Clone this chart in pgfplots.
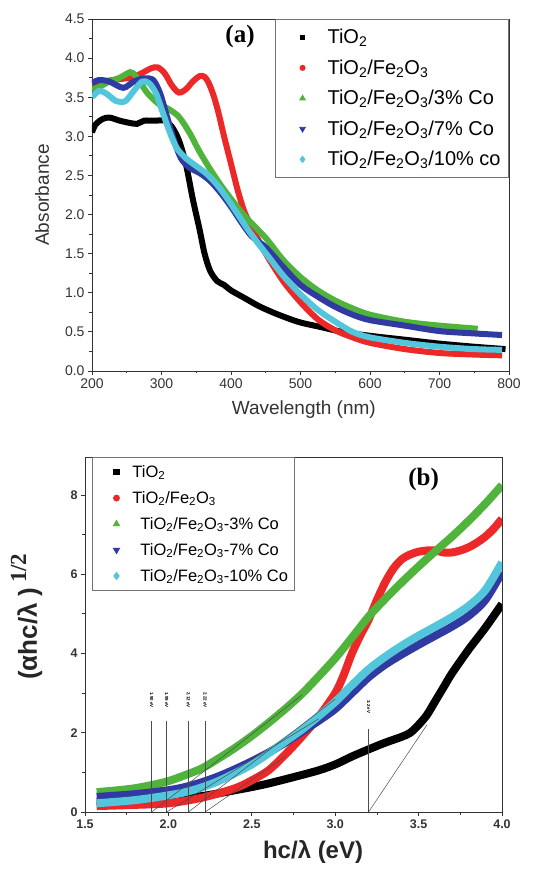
\documentclass[border=0pt]{standalone}
\usepackage{fontspec}
\setmainfont{Liberation Sans}
\newfontfamily\serifbf{Liberation Serif}
\usepackage{pgfplots}
\pgfplotsset{compat=1.18}
\definecolor{cblack}{RGB}{0,0,0}
\definecolor{cred}{RGB}{236,40,40}
\definecolor{cgreen}{RGB}{80,180,60}
\definecolor{cblue}{RGB}{48,58,160}
\definecolor{ccyan}{RGB}{84,198,220}
\pgfplotsset{
  legimgA/.style={legend image code/.code={\path[draw=none,fill=none] (0pt,0pt) -- (44pt,0pt); \draw[##1] plot coordinates {(21pt,0pt)};}},
  legimgB/.style={legend image code/.code={\path[draw=none,fill=none] (0pt,0pt) -- (34pt,0pt); \draw[##1] plot coordinates {(20pt,0pt)};}},
}
\begin{document}
\begin{tikzpicture}
\useasboundingbox (0pt,0pt) rectangle (547pt,872pt);
% ---------------- panel (a)
\begin{axis}[at={(92pt,501pt)}, anchor=south west, width=417pt, height=352pt, scale only axis,
  xmin=200, xmax=800, ymin=0, ymax=4.5,
  xtick={200,300,...,800}, ytick={0,0.5,...,4.5},
  minor x tick num=1, minor y tick num=1,
  tick pos=left, tick align=outside,
  major tick length=4pt, minor tick length=2.5pt,
  axis line style={line width=0.9pt, black!80},
  every tick/.style={black!80, line width=0.8pt},
  /pgf/number format/assume math mode=true,
  yticklabel style={/pgf/number format/fixed, /pgf/number format/fixed zerofill, /pgf/number format/precision=1},
  xticklabel style={/pgf/number format/fixed},
  tick label style={font=\fontsize{14}{14}\selectfont, text=black!80},
  every axis y label/.style={at={(axis description cs:-0.12,0.5)}, rotate=90, anchor=center},
  every axis x label/.style={at={(axis description cs:0.508,-0.111)}, anchor=center},
  label style={font=\fontsize{19}{19}\selectfont, text=black!80},
  xlabel={Wavelength (nm)}, ylabel={Absorbance},
  legend style={at={(1,1)}, anchor=north east, draw=black!55, line width=0.8pt,
    font=\fontsize{20}{22}\selectfont, row sep=10.5pt, inner xsep=6pt, inner ysep=8pt},
  legend cell align=left,
  legimgA,
]
\addplot[cblack, line width=6pt, smooth, forget plot] coordinates {
(200,3.05) (205,3.15) (215,3.22) (225,3.24) (240,3.2) (255,3.17) (265,3.16) (275,3.2) (290,3.2) (305,3.2) (315,3.12) (325,2.95) (335,2.65) (345,2.2) (355,1.8) (362,1.5) (370,1.28) (380,1.15) (390,1.1) (400,1.03) (420,0.93) (440,0.83) (460,0.75) (480,0.68) (500,0.62) (530,0.56) (560,0.5) (600,0.45) (650,0.4) (700,0.35) (750,0.31) (795,0.28)};
\addplot[cred, line width=6pt, smooth, forget plot] coordinates {
(200,3.68) (230,3.72) (255,3.75) (270,3.8) (285,3.87) (295,3.88) (305,3.8) (315,3.65) (325,3.56) (335,3.6) (345,3.7) (355,3.77) (362,3.76) (368,3.68) (375,3.52) (382,3.3) (390,3.0) (400,2.65) (410,2.3) (420,2.02) (435,1.75) (450,1.5) (475,1.15) (500,0.88) (525,0.66) (550,0.52) (575,0.43) (600,0.36) (650,0.28) (700,0.23) (750,0.21) (790,0.2)};
\addplot[cgreen, line width=6pt, smooth, forget plot] coordinates {
(200,3.6) (210,3.63) (225,3.7) (240,3.75) (255,3.82) (262,3.78) (270,3.68) (280,3.55) (295,3.42) (310,3.35) (325,3.25) (340,3.05) (355,2.8) (370,2.58) (385,2.38) (400,2.2) (420,1.98) (450,1.7) (475,1.42) (500,1.2) (525,1.03) (550,0.9) (575,0.8) (600,0.72) (650,0.63) (700,0.58) (755,0.54)};
\addplot[cblue, line width=6pt, smooth, forget plot] coordinates {
(200,3.68) (210,3.72) (225,3.7) (245,3.62) (260,3.7) (275,3.74) (288,3.72) (298,3.55) (308,3.25) (318,2.95) (328,2.72) (340,2.6) (355,2.53) (370,2.43) (385,2.28) (400,2.1) (415,1.9) (430,1.72) (450,1.58) (475,1.33) (500,1.1) (525,0.95) (550,0.82) (575,0.72) (600,0.65) (650,0.58) (700,0.51) (750,0.48) (790,0.46)};
\addplot[ccyan, line width=6pt, smooth, forget plot] coordinates {
(200,3.5) (210,3.58) (220,3.55) (235,3.45) (248,3.45) (260,3.58) (272,3.7) (282,3.68) (292,3.55) (302,3.3) (312,3.05) (322,2.85) (335,2.72) (350,2.62) (365,2.52) (380,2.38) (395,2.2) (410,2.0) (425,1.8) (440,1.62) (455,1.45) (475,1.22) (500,0.98) (525,0.78) (550,0.63) (575,0.5) (600,0.43) (650,0.36) (700,0.31) (750,0.28) (790,0.27)};
\addlegendimage{only marks, mark=square*, cblack, mark size=2.2pt}
\addlegendentry{TiO\textsubscript{2}}
\addlegendimage{only marks, mark=*, cred, mark size=2.6pt}
\addlegendentry{TiO\textsubscript{2}/Fe\textsubscript{2}O\textsubscript{3}}
\addlegendimage{only marks, mark=triangle*, cgreen, mark size=3.2pt}
\addlegendentry{TiO\textsubscript{2}/Fe\textsubscript{2}O\textsubscript{3}/3\% Co}
\addlegendimage{only marks, mark=triangle*, cblue, mark size=3.2pt, mark options={rotate=180}}
\addlegendentry{TiO\textsubscript{2}/Fe\textsubscript{2}O\textsubscript{3}/7\% Co}
\addlegendimage{only marks, mark=diamond*, ccyan, mark size=3.2pt}
\addlegendentry{TiO\textsubscript{2}/Fe\textsubscript{2}O\textsubscript{3}/10\% co}
\node[font=\serifbf\bfseries\fontsize{25}{25}\selectfont] at (axis cs:413,4.27) {(a)};
\end{axis}
% ---------------- panel (b)
\begin{axis}[at={(85pt,60pt)}, anchor=south west, width=417pt, height=355pt, scale only axis,
  xmin=1.5, xmax=4.0, ymin=0, ymax=8.96,
  xtick={1.5,2.0,...,4.0}, ytick={0,2,4,6,8},
  minor x tick num=1, minor y tick num=1,
  tick pos=left, tick align=outside,
  major tick length=4pt, minor tick length=2.5pt,
  axis line style={line width=0.9pt, black!80},
  every tick/.style={black!80, line width=0.8pt},
  /pgf/number format/assume math mode=true,
  xticklabel style={/pgf/number format/fixed, /pgf/number format/fixed zerofill, /pgf/number format/precision=1},
  tick label style={font=\bfseries\fontsize{12.5}{12.5}\selectfont, text=black!80},
  every axis y label/.style={at={(axis description cs:-0.14,0.55)}, rotate=90, anchor=center},
  every axis x label/.style={at={(axis description cs:0.547,-0.113)}, anchor=center},
  label style={font=\bfseries\fontsize{24}{24}\selectfont, text=black!85},
  xlabel={hc/λ (eV)},
  ylabel={\fontsize{26}{26}\selectfont(αhc/λ )\,\raisebox{0.42em}{\serifbf\bfseries\fontsize{23}{23}\selectfont 1/2}},
  legend style={at={(0.017,1)}, anchor=north west, draw=black!55, line width=0.8pt,
    font=\fontsize{16.5}{18}\selectfont, row sep=8.5pt, inner xsep=4pt, inner ysep=6pt},
  legend cell align=left,
  legimgB,
]
\addplot[cblack, line width=8pt, smooth, forget plot] coordinates {
(1.57,0.25) (1.8,0.28) (2.0,0.32) (2.2,0.4) (2.4,0.55) (2.5,0.63) (2.6,0.72) (2.75,0.88) (2.9,1.05) (3.0,1.2) (3.1,1.4) (3.2,1.58) (3.3,1.75) (3.4,1.9) (3.45,2.0) (3.5,2.2) (3.55,2.45) (3.6,2.8) (3.65,3.15) (3.7,3.5) (3.8,4.1) (3.9,4.65) (4.0,5.25)};
\addplot[cred, line width=8pt, smooth, forget plot] coordinates {
(1.57,0.15) (1.8,0.18) (2.0,0.22) (2.2,0.36) (2.4,0.6) (2.5,0.8) (2.6,1.05) (2.7,1.45) (2.8,1.9) (2.9,2.4) (3.0,3.0) (3.05,3.45) (3.1,4.0) (3.15,4.45) (3.2,4.85) (3.25,5.35) (3.3,5.8) (3.35,6.15) (3.4,6.38) (3.45,6.5) (3.5,6.57) (3.55,6.6) (3.6,6.6) (3.65,6.55) (3.7,6.55) (3.75,6.6) (3.8,6.68) (3.85,6.8) (3.9,6.95) (3.95,7.15) (4.0,7.4)};
\addplot[cgreen, line width=8pt, smooth, forget plot] coordinates {
(1.57,0.5) (1.7,0.55) (1.8,0.6) (1.9,0.68) (2.0,0.78) (2.1,0.93) (2.2,1.1) (2.3,1.35) (2.4,1.62) (2.5,1.92) (2.6,2.25) (2.7,2.6) (2.8,2.98) (2.9,3.42) (3.0,3.88) (3.1,4.4) (3.2,4.93) (3.3,5.38) (3.4,5.8) (3.5,6.2) (3.6,6.58) (3.7,6.95) (3.8,7.35) (3.9,7.78) (4.0,8.25)};
\addplot[cblue, line width=8pt, smooth, forget plot] coordinates {
(1.57,0.38) (1.8,0.45) (2.0,0.55) (2.1,0.63) (2.2,0.75) (2.3,0.9) (2.4,1.08) (2.5,1.28) (2.6,1.5) (2.7,1.75) (2.8,2.02) (2.9,2.3) (3.0,2.6) (3.1,3.0) (3.2,3.4) (3.3,3.72) (3.4,3.98) (3.5,4.22) (3.6,4.45) (3.7,4.68) (3.8,4.95) (3.9,5.35) (4.0,6.05)};
\addplot[ccyan, line width=8pt, smooth, forget plot] coordinates {
(1.57,0.22) (1.8,0.3) (2.0,0.42) (2.1,0.5) (2.2,0.62) (2.3,0.78) (2.4,0.98) (2.5,1.2) (2.6,1.48) (2.7,1.78) (2.8,2.08) (2.9,2.42) (3.0,2.78) (3.1,3.2) (3.2,3.6) (3.3,3.92) (3.4,4.2) (3.5,4.45) (3.6,4.68) (3.7,4.92) (3.8,5.2) (3.9,5.6) (4.0,6.3)};
% tangent and marker lines
\addplot[black!70, line width=0.5pt, forget plot] coordinates {(1.9,0) (2.8,2.95)};
\addplot[black!70, line width=0.5pt, forget plot] coordinates {(1.99,0) (2.9,2.35)};
\addplot[black!70, line width=0.5pt, forget plot] coordinates {(2.12,0) (3.0,2.85)};
\addplot[black!70, line width=0.5pt, forget plot] coordinates {(2.22,0) (2.7,1.4)};
\addplot[black!70, line width=0.5pt, forget plot] coordinates {(3.2,0) (3.55,2.2)};
\addplot[black!70, line width=0.5pt, forget plot] coordinates {(1.9,0) (1.9,2.3)};
\addplot[black!70, line width=0.5pt, forget plot] coordinates {(1.99,0) (1.99,2.3)};
\addplot[black!70, line width=0.5pt, forget plot] coordinates {(2.12,0) (2.12,2.3)};
\addplot[black!70, line width=0.5pt, forget plot] coordinates {(2.22,0) (2.22,2.3)};
\addplot[black!70, line width=0.5pt, forget plot] coordinates {(3.2,0) (3.2,2.1)};
\node[rotate=-90, anchor=west, font=\fontsize{4.5}{4.5}\selectfont\bfseries, inner sep=1pt] at (axis cs:1.9,3.05) {1.90 eV};
\node[rotate=-90, anchor=west, font=\fontsize{4.5}{4.5}\selectfont\bfseries, inner sep=1pt] at (axis cs:1.99,3.05) {1.99 eV};
\node[rotate=-90, anchor=west, font=\fontsize{4.5}{4.5}\selectfont\bfseries, inner sep=1pt] at (axis cs:2.12,3.05) {2.12 eV};
\node[rotate=-90, anchor=west, font=\fontsize{4.5}{4.5}\selectfont\bfseries, inner sep=1pt] at (axis cs:2.22,3.05) {2.22 eV};
\node[rotate=-90, anchor=west, font=\fontsize{4.5}{4.5}\selectfont\bfseries, inner sep=1pt] at (axis cs:3.2,2.85) {3.2 eV};
\addlegendimage{only marks, mark=square*, cblack, mark size=2.6pt}
\addlegendentry{TiO\textsubscript{2}}
\addlegendimage{only marks, mark=*, cred, mark size=3pt}
\addlegendentry{TiO\textsubscript{2}/Fe\textsubscript{2}O\textsubscript{3}}
\addlegendimage{only marks, mark=triangle*, cgreen, mark size=3.6pt}
\addlegendentry{\hspace*{8pt}TiO\textsubscript{2}/Fe\textsubscript{2}O\textsubscript{3}-3\% Co}
\addlegendimage{only marks, mark=triangle*, cblue, mark size=3.6pt, mark options={rotate=180}}
\addlegendentry{\hspace*{8pt}TiO\textsubscript{2}/Fe\textsubscript{2}O\textsubscript{3}-7\% Co}
\addlegendimage{only marks, mark=diamond*, ccyan, mark size=3.6pt}
\addlegendentry{\hspace*{8pt}TiO\textsubscript{2}/Fe\textsubscript{2}O\textsubscript{3}-10\% Co}
\node[font=\serifbf\bfseries\fontsize{25}{25}\selectfont] at (axis cs:3.53,8.38) {(b)};
\end{axis}
\end{tikzpicture}
\end{document}
